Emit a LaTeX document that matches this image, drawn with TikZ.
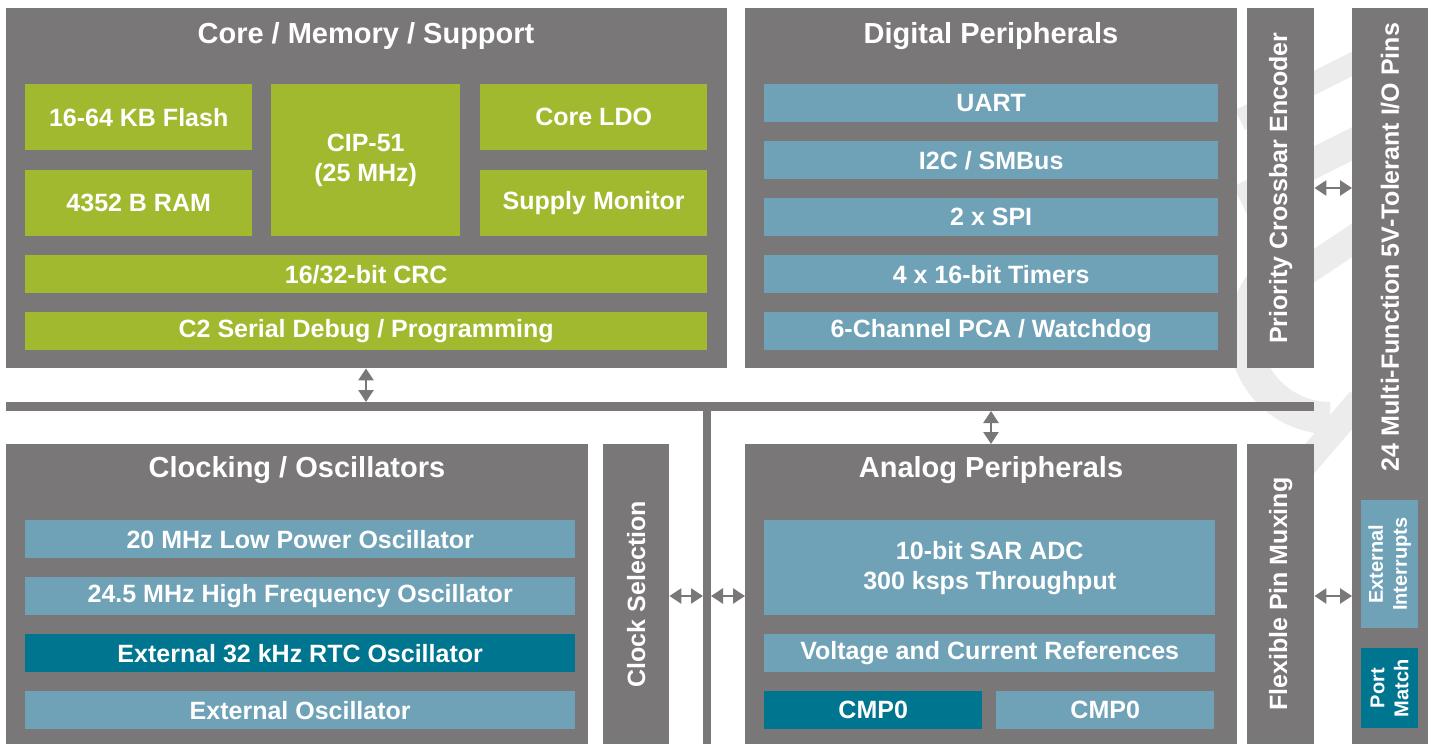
\documentclass[tikz,border=0pt]{standalone}
\usepackage{fontspec}
\setmainfont{Liberation Sans}
\usetikzlibrary{arrows.meta}
\definecolor{boxgray}{RGB}{122,119,120}
\definecolor{cgreen}{RGB}{161,185,46}
\definecolor{cblue}{RGB}{111,162,183}
\definecolor{cteal}{RGB}{0,117,143}
\definecolor{wmark}{RGB}{236,236,236}
\tikzset{
  blk/.style={fill=boxgray, draw=none, inner sep=0pt, anchor=north west},
  ttl/.style={text=white, font=\fontsize{29}{34}\selectfont\bfseries, inner sep=0pt},
  inbox/.style={draw=none, inner sep=0pt, anchor=north west, text=white, align=center,
     font=\fontsize{25}{30}\selectfont\bfseries},
  gbox/.style={inbox, fill=cgreen},
  bbox/.style={inbox, fill=cblue},
  tbox/.style={inbox, fill=cteal},
  vlabel/.style={text=white, rotate=90, inner sep=0pt, font=\fontsize{25}{30}\selectfont\bfseries},
  smlabel/.style={rotate=90, inner sep=0pt, align=center, text=white,
     font=\fontsize{20}{24}\selectfont\bfseries},
  biarrow/.style={draw=boxgray, line width=2.5pt,
     {Triangle[length=12pt,width=15pt]}-{Triangle[length=12pt,width=15pt]}},
}
\begin{document}
\begin{tikzpicture}[x=1pt,y=-1pt]
\useasboundingbox (0,0) rectangle (1433,744);
\fill[white] (0,0) rectangle (1433,744);
% faint watermark
\draw[wmark, line width=32pt] (1330,418) arc[start angle=90, end angle=215, radius=85];
\draw[wmark, line width=28pt] (1255,305) -- (1360,235);
\draw[wmark, line width=26pt] (1300,470) -- (1360,400);
\draw[wmark, line width=30pt] (1240,200) -- (1360,140);
\draw[wmark, line width=22pt] (1240,120) -- (1360,60);

% main blocks
\node[blk, minimum width=721pt, minimum height=360pt] (core) at (6,8) {};
\node[ttl] (coret) at (366,36) {Core / Memory / Support};
\node[blk, minimum width=492pt, minimum height=360pt] (dig) at (745,8) {};
\node[ttl] (digt) at (991,36) {Digital Peripherals};
\node[blk, minimum width=67pt, minimum height=360pt] (prio) at (1247,8) {};
\node[vlabel] at (prio.center) {Priority Crossbar Encoder};
\node[blk, minimum width=76pt, minimum height=736pt] (io) at (1352,8) {};
\node[vlabel] at (1390,247) {24 Multi-Function 5V-Tolerant I/O Pins};

\node[blk, minimum width=582pt, minimum height=300pt] (clk) at (6,444) {};
\node[ttl] (clkt) at (297,470) {Clocking / Oscillators};
\node[blk, minimum width=66pt, minimum height=300pt] (csel) at (603,444) {};
\node[vlabel] at (csel.center) {Clock Selection};
\node[blk, minimum width=492pt, minimum height=300pt] (ana) at (745,444) {};
\node[ttl] (anat) at (991,470) {Analog Peripherals};
\node[blk, minimum width=67pt, minimum height=300pt] (flex) at (1247,444) {};
\node[vlabel] at (flex.center) {Flexible Pin Muxing};

% buses
\node[blk, minimum width=1308pt, minimum height=9pt] (hbus) at (6,402) {};
\node[blk, minimum width=8pt, minimum height=334pt] (vbus) at (703,410) {};

% core contents
\node[gbox, minimum width=227pt, minimum height=66pt] (flash) at (25,84) {16-64 KB Flash};
\node[gbox, minimum width=227pt, minimum height=66pt] (ram) at (25,170) {4352 B RAM};
\node[gbox, minimum width=189pt, minimum height=152pt] (cpu) at (271,84) {CIP-51\\(25 MHz)};
\node[gbox, minimum width=227pt, minimum height=66pt] (ldo) at (480,84) {Core LDO};
\node[gbox, minimum width=227pt, minimum height=66pt] (smon) at (480,170) {Supply Monitor};
\node[gbox, minimum width=682pt, minimum height=38pt] (crc) at (25,255) {16/32-bit CRC};
\node[gbox, minimum width=682pt, minimum height=38pt] (c2) at (25,312) {C2 Serial Debug / Programming};

% digital contents
\node[bbox, minimum width=454pt, minimum height=38pt] (uart) at (764,84) {UART};
\node[bbox, minimum width=454pt, minimum height=38pt] (i2c) at (764,141) {I2C / SMBus};
\node[bbox, minimum width=454pt, minimum height=38pt] (spi) at (764,198) {2 x SPI};
\node[bbox, minimum width=454pt, minimum height=38pt] (tmr) at (764,255) {4 x 16-bit Timers};
\node[bbox, minimum width=454pt, minimum height=38pt] (pca) at (764,312) {6-Channel PCA / Watchdog};

% clock contents
\node[bbox, minimum width=550pt, minimum height=38pt] (lpo) at (25,520) {20 MHz Low Power Oscillator};
\node[bbox, minimum width=550pt, minimum height=38pt] (hfo) at (25,577) {24.5 MHz High Frequency Oscillator};
\node[tbox, minimum width=550pt, minimum height=38pt] (rtc) at (25,634) {External 32 kHz RTC Oscillator};
\node[bbox, minimum width=550pt, minimum height=38pt] (exo) at (25,691) {External Oscillator};

% analog contents
\node[bbox, minimum width=451pt, minimum height=95pt] (adc) at (764,520) {10-bit SAR ADC\\300 ksps Throughput};
\node[bbox, minimum width=451pt, minimum height=38pt] (vref) at (764,634) {Voltage and Current References};
\node[tbox, minimum width=218pt, minimum height=38pt] (cmpa) at (764,691) {CMP0};
\node[bbox, minimum width=218pt, minimum height=38pt] (cmpb) at (996,691) {CMP0};

% io contents
\node[inbox, fill=cblue, minimum width=57pt, minimum height=128pt] (exti) at (1361,500) {};
\node[smlabel] at (exti.center) {External\\Interrupts};
\node[inbox, fill=cteal, minimum width=57pt, minimum height=80pt] (pm) at (1361,648) {};
\node[smlabel] at (pm.center) {Port\\Match};

% arrows
\coordinate (a1) at (366,402);
\draw[biarrow] (core.south -| a1) -- (a1);
\coordinate (a2) at (991,411);
\draw[biarrow] (a2) -- (ana.north -| a2);
\coordinate (a3) at (703,596);
\draw[biarrow] (csel.east |- a3) -- (a3);
\coordinate (a4) at (711,596);
\draw[biarrow] (a4) -- (ana.west |- a4);
\coordinate (a5) at (1314,188);
\draw[biarrow] (prio.east |- a5) -- (io.west |- a5);
\coordinate (a6) at (1314,596);
\draw[biarrow] (flex.east |- a6) -- (io.west |- a6);
\end{tikzpicture}
\end{document}
